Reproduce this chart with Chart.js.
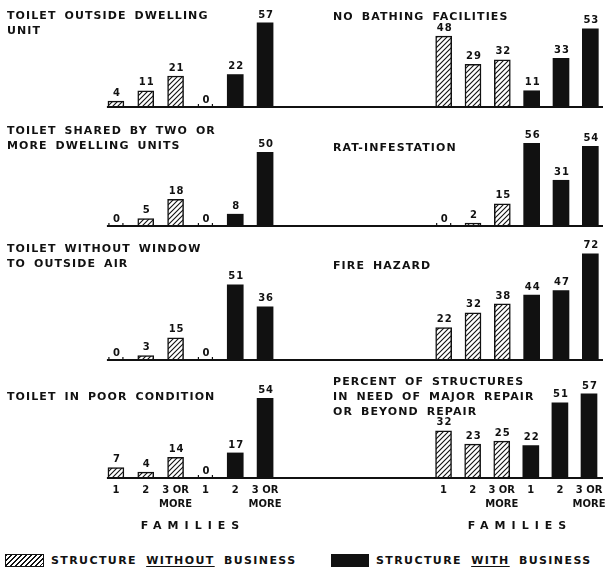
<!DOCTYPE html>
<html>
<head>
<meta charset="utf-8">
<script src="https://cdn.jsdelivr.net/npm/chart.js@4"></script>
<style>
  body { margin: 0; background: #fff; }
  #wrap { position: relative; width: 611px; height: 574px; overflow: hidden; background: #fff; }
  canvas.panel { position: absolute; }
  .title {
    position: absolute; z-index: 2; color: #111; white-space: nowrap;
    font: bold 11px 'DejaVu Sans'; letter-spacing: 1.1px; word-spacing: 3px; line-height: 15px;
  }
  .families {
    position: absolute; z-index: 2; top: 519px; transform: translateX(-50%);
    font: bold 11px 'DejaVu Sans'; letter-spacing: 6px; color: #111;
  }
  .legend { position: absolute; top: 553px; height: 15px; display: flex; align-items: center; color: #111;
    font: bold 11px 'DejaVu Sans'; letter-spacing: 1.4px; word-spacing: 4px; white-space: nowrap; }
  .swatch { height: 13px; margin-right: 7px; box-sizing: border-box; flex: none; }
  .hatch { width: 39px; border: 1.5px solid #111;
    background: repeating-linear-gradient(135deg, #111 0 1px, #fff 1px 3.5px); }
  .solid { width: 38px; background: #111; }
  u { text-underline-offset: 2px; }
</style>
</head>
<body>
<div id="wrap">
  <canvas class="panel" id="c1" width="300" height="198" style="left:0;top:-31px"></canvas>
  <canvas class="panel" id="c2" width="311" height="198" style="left:300px;top:-31px"></canvas>
  <canvas class="panel" id="c3" width="300" height="198" style="left:0;top:88px"></canvas>
  <canvas class="panel" id="c4" width="311" height="198" style="left:300px;top:88px"></canvas>
  <canvas class="panel" id="c5" width="300" height="198" style="left:0;top:222px"></canvas>
  <canvas class="panel" id="c6" width="311" height="198" style="left:300px;top:222px"></canvas>
  <canvas class="panel" id="c7" width="300" height="198" style="left:0;top:340px"></canvas>
  <canvas class="panel" id="c8" width="311" height="198" style="left:300px;top:340px"></canvas>

  <div class="title" style="left:7px;top:8px">TOILET OUTSIDE DWELLING<br>UNIT</div>
  <div class="title" style="left:333px;top:9px">NO BATHING FACILITIES</div>
  <div class="title" style="left:7px;top:123px">TOILET SHARED BY TWO OR<br>MORE DWELLING UNITS</div>
  <div class="title" style="left:333px;top:140px">RAT-INFESTATION</div>
  <div class="title" style="left:7px;top:241px">TOILET WITHOUT WINDOW<br>TO OUTSIDE AIR</div>
  <div class="title" style="left:333px;top:258px">FIRE HAZARD</div>
  <div class="title" style="left:7px;top:389px">TOILET IN POOR CONDITION</div>
  <div class="title" style="left:333px;top:374px">PERCENT OF STRUCTURES<br>IN NEED OF MAJOR REPAIR<br>OR BEYOND REPAIR</div>

  <div class="families" style="left:193px">FAMILIES</div>
  <div class="families" style="left:520px">FAMILIES</div>

  <div class="legend" style="left:5px"><div class="swatch hatch"></div><span>STRUCTURE <u>WITHOUT</u> BUSINESS</span></div>
  <div class="legend" style="left:331px"><div class="swatch solid"></div><span>STRUCTURE <u>WITH</u> BUSINESS</span></div>
</div>

<script>
// Number of families in the structure: first three bars without business, last three with
const familyLabels = ['1', '2', ['3 OR', 'MORE'], '1', '2', ['3 OR', 'MORE']];

// Percent of structures, per panel
const outsideDwelling = [4, 11, 21, 0, 22, 57];
const noBathing = [48, 29, 32, 11, 33, 53];
const sharedToilet = [0, 5, 18, 0, 8, 50];
const ratInfestation = [0, 2, 15, 56, 31, 54];
const noWindow = [0, 3, 15, 0, 51, 36];
const fireHazard = [22, 32, 38, 44, 47, 72];
const poorCondition = [7, 4, 14, 0, 17, 54];
const majorRepair = [32, 23, 25, 22, 51, 57];

const INK = '#111';
const FONT = 'DejaVu Sans';

// diagonal hatch fill for "without business"
function makeHatch() {
    const c = document.createElement('canvas');
    c.width = 5; c.height = 5;
    const g = c.getContext('2d');
    g.fillStyle = '#fff';
    g.fillRect(0, 0, 5, 5);
    g.strokeStyle = INK;
    g.lineWidth = 1.1;
    g.beginPath();
    g.moveTo(0, 5); g.lineTo(5, 0);
    g.moveTo(-1, 1); g.lineTo(1, -1);
    g.moveTo(4, 6); g.lineTo(6, 4);
    g.stroke();
    return g.createPattern(c, 'repeat');
}
const hatch = makeHatch();

// Long baseline under each panel
const baselinePlugin = {
    id: 'baseline',
    afterDatasetsDraw(chart, args, opts) {
        const ctx = chart.ctx;
        const y = chart.scales.y.getPixelForValue(0);
        const first = chart.getDatasetMeta(0).data[0];
        const x0 = opts.fromEdge ? 0 : first.x - first.width / 2 - 1;
        ctx.save();
        ctx.strokeStyle = INK;
        ctx.lineWidth = 1.8;
        ctx.beginPath();
        ctx.moveTo(x0, y);
        ctx.lineTo(chart.width - (opts.trimRight || 0), y);
        ctx.stroke();
        ctx.restore();
    }
};

// Value printed on top of each bar
const valueLabels = {
    id: 'valueLabels',
    afterDatasetsDraw(chart) {
        const ctx = chart.ctx;
        const values = chart.data.datasets[0].data;
        const y0 = chart.scales.y.getPixelForValue(0);
        ctx.save();
        ctx.fillStyle = INK;
        ctx.strokeStyle = INK;
        ctx.font = `bold 10px '${FONT}'`;
        ctx.letterSpacing = '1px';
        ctx.textAlign = 'center';
        ctx.textBaseline = 'bottom';
        chart.getDatasetMeta(0).data.forEach((bar, i) => {
            const v = values[i];
            if (v === 0) {
                // little end ticks where an empty bar would stand
                ctx.lineWidth = 1.2;
                ctx.beginPath();
                ctx.moveTo(bar.x - 7, y0); ctx.lineTo(bar.x - 7, y0 - 3);
                ctx.moveTo(bar.x + 7, y0); ctx.lineTo(bar.x + 7, y0 - 3);
                ctx.stroke();
                ctx.fillText(String(v), bar.x + 1, y0 - 2);
            } else {
                ctx.fillText(String(v), bar.x + 1, bar.y - 3);
            }
        });
        ctx.restore();
    }
};

function makePanel(id, values, side, showTicks) {
    const left = side === 'left';
    return new Chart(document.getElementById(id), {
        type: 'bar',
        data: {
            labels: familyLabels,
            datasets: [{
                data: values,
                backgroundColor: values.map((v, i) => i < 3 ? hatch : INK),
                borderColor: INK,
                borderWidth: values.map((v, i) => i < 3 ? 1.5 : 0),
                barThickness: 16
            }]
        },
        options: {
            responsive: false,
            animation: false,
            devicePixelRatio: 1,
            layout: {
                padding: left ? { top: 20, left: 101, right: 20, bottom: 0 }
                              : { top: 20, left: 129, right: 6, bottom: 0 }
            },
            plugins: {
                legend: { display: false },
                tooltip: { enabled: false },
                baseline: left ? { fromEdge: false, trimRight: 0 } : { fromEdge: true, trimRight: 8 }
            },
            scales: {
                x: {
                    grid: { display: false, drawTicks: false },
                    border: { display: false },
                    ticks: {
                        display: showTicks,
                        color: INK,
                        autoSkip: false,
                        maxRotation: 0,
                        padding: 5,
                        font: { family: FONT, weight: 'bold', size: 10, lineHeight: 1.4 }
                    },
                    afterFit: (scale) => { scale.height = 60; }
                },
                y: { display: false, min: 0, max: 80 }
            }
        },
        plugins: [baselinePlugin, valueLabels]
    });
}

makePanel('c1', outsideDwelling, 'left', false);
makePanel('c2', noBathing, 'right', false);
makePanel('c3', sharedToilet, 'left', false);
makePanel('c4', ratInfestation, 'right', false);
makePanel('c5', noWindow, 'left', false);
makePanel('c6', fireHazard, 'right', false);
makePanel('c7', poorCondition, 'left', true);
makePanel('c8', majorRepair, 'right', true);
</script>
</body>
</html>
